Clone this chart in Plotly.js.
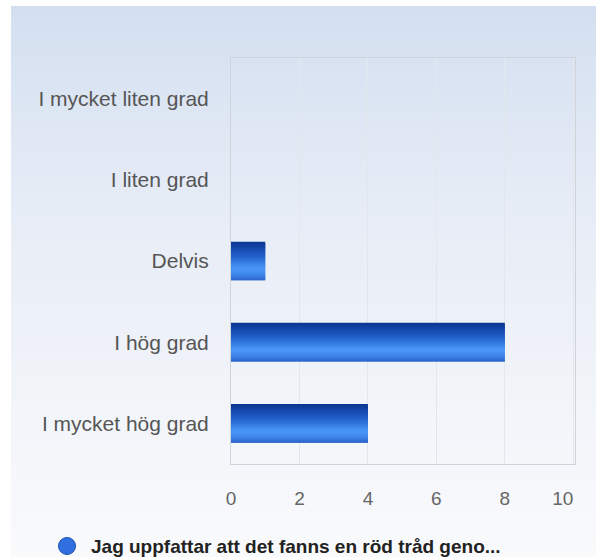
<!DOCTYPE html>
<html>
<head>
<meta charset="utf-8">
<script src="https://cdn.plot.ly/plotly-3.0.1.min.js"></script>
<style>
  html, body { margin:0; padding:0; background:#ffffff; }
  #wrap { position:relative; width:596px; height:557px; background:#ffffff; overflow:hidden; }
  #bg { position:absolute; left:11px; top:6px; width:585px; height:551px;
        background:linear-gradient(to bottom, #d3dff0 0%, #e6ecf6 35%, #f1f4f9 70%, #f9fafc 100%); }
  #chart { position:absolute; left:0; top:0; width:596px; height:557px; }
</style>
</head>
<body>
<div id="wrap"><div id="bg"></div><div id="chart"></div></div>
<script>
// ---- data ----
const categories = ["I mycket liten grad", "I liten grad", "Delvis", "I hög grad", "I mycket hög grad"];
const values = [0, 0, 1, 8, 4];
const seriesName = "Jag uppfattar att det fanns en röd tråd geno...";
const xTicks = [0, 2, 4, 6, 8, 10];
const xTickText = ["0", "2", "4", "6", "8", "10\u00a0\u00a0\u00a0\u00a0"];

// ---- style: vertical gradient faked with overlapping bar stripes ----
const stops = [[0, [11, 53, 144]], [0.35, [31, 92, 200]], [0.7, [74, 152, 248]], [0.85, [63, 134, 234]], [1, [42, 98, 200]]];
function colorAt(t) {
  for (let i = 0; i < stops.length - 1; i++) {
    const a = stops[i], b = stops[i + 1];
    if (t >= a[0] && t <= b[0]) {
      const f = (t - a[0]) / (b[0] - a[0]);
      const c = a[1].map((v, k) => Math.round(v + (b[1][k] - v) * f));
      return `rgb(${c[0]},${c[1]},${c[2]})`;
    }
  }
  return "rgb(42,98,200)";
}
const barW = 0.477, N = 20, s = barW / N;
const traces = [];
for (let i = 0; i < N; i++) {
  const off = -barW / 2 + i * s;
  traces.push({
    type: "bar", orientation: "h", x: values, y: categories, name: seriesName,
    width: (i === N - 1) ? s : Math.min(s * 2, barW / 2 - off), offset: off,
    marker: { color: colorAt((i + 0.5) / N), line: { width: 0 } },
    showlegend: false, hoverinfo: i === 0 ? "x+y" : "skip"
  });
}

const layout = {
  width: 596, height: 557,
  margin: { l: 231, r: 21, t: 58, b: 93 },
  paper_bgcolor: "rgba(0,0,0,0)", plot_bgcolor: "rgba(0,0,0,0)",
  barmode: "overlay",
  font: { family: "Liberation Sans, Arial, sans-serif", color: "#555" },
  xaxis: {
    range: [0, 10.05], tickvals: xTicks, ticktext: xTickText,
    showgrid: true, gridcolor: "#e3e6ea", gridwidth: 1,
    zeroline: false, showline: true, linecolor: "#cfd4da", mirror: true,
    ticks: "outside", ticklen: 17, tickcolor: "rgba(0,0,0,0)",
    tickfont: { size: 19, color: "#666" }, fixedrange: true
  },
  yaxis: {
    type: "category", categoryorder: "array", categoryarray: categories,
    autorange: "reversed", showgrid: false, zeroline: false,
    showline: true, linecolor: "#cfd4da", mirror: true,
    ticks: "outside", ticklen: 17, tickcolor: "rgba(0,0,0,0)",
    tickfont: { size: 21, color: "#555" }, fixedrange: true
  },
  showlegend: false,
  shapes: [
    { type: "circle", xref: "paper", yref: "paper", xsizemode: "pixel", ysizemode: "pixel",
      xanchor: -0.4767, yanchor: -0.2020, x0: -8.5, x1: 8.5, y0: -8.5, y1: 8.5,
      fillcolor: "#2f6fe0", line: { color: "#1d4fb0", width: 1 } }
  ],
  annotations: [
    { xref: "paper", yref: "paper", x: -0.4128, y: -0.2020, xanchor: "left", yanchor: "middle",
      text: "<b>" + seriesName + "</b>", showarrow: false,
      font: { size: 19, color: "#222", family: "Liberation Sans, Arial, sans-serif" } }
  ]
};

Plotly.newPlot("chart", traces, layout, { displayModeBar: false, staticPlot: true });
</script>
</body>
</html>
